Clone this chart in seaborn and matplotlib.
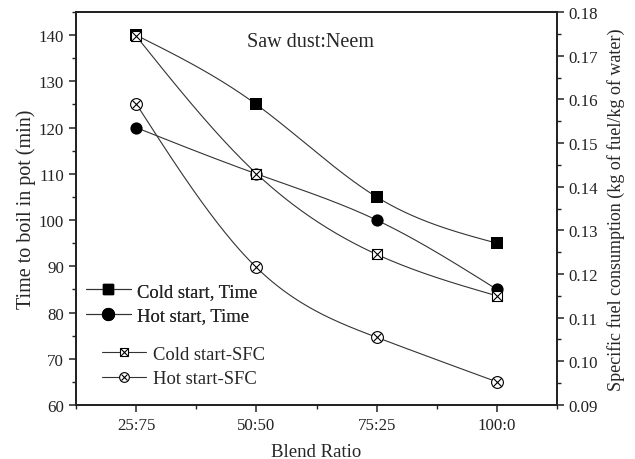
import numpy as np
import pandas as pd
import matplotlib
matplotlib.use("Agg")
import matplotlib.pyplot as plt
import seaborn as sns
from matplotlib.lines import Line2D
from matplotlib.ticker import MultipleLocator

categories = ["25:75", "50:50", "75:25", "100:0"]
cold_time = [140, 125, 105, 95]
hot_time = [120, 110, 100, 85]
cold_sfc = [0.1745, 0.1430, 0.1245, 0.1150]
hot_sfc = [0.1590, 0.1215, 0.1055, 0.0953]

sns.set_theme(style="ticks")
plt.rcParams["font.family"] = ["Liberation Serif", "DejaVu Serif"]
plt.rcParams["mathtext.fontset"] = "stix"


def spline(xs, ys, n=200):
    xs = np.asarray(xs, float)
    ys = np.asarray(ys, float)
    m = len(xs)
    h = np.diff(xs)
    A = np.zeros((m, m))
    b = np.zeros(m)
    A[0, 0] = A[-1, -1] = 1
    for i in range(1, m - 1):
        A[i, i - 1] = h[i - 1]
        A[i, i] = 2 * (h[i - 1] + h[i])
        A[i, i + 1] = h[i]
        b[i] = 3 * ((ys[i + 1] - ys[i]) / h[i] - (ys[i] - ys[i - 1]) / h[i - 1])
    c = np.linalg.solve(A, b)
    xx = np.linspace(xs[0], xs[-1], n)
    yy = np.empty_like(xx)
    for k, x in enumerate(xx):
        i = min(np.searchsorted(xs, x, side="right") - 1, m - 2)
        dx = x - xs[i]
        bb = (ys[i + 1] - ys[i]) / h[i] - h[i] * (c[i + 1] + 2 * c[i]) / 3
        d = (c[i + 1] - c[i]) / (3 * h[i])
        yy[k] = ys[i] + bb * dx + c[i] * dx ** 2 + d * dx ** 3
    return xx, yy


xpos = np.arange(1, len(categories) + 1)
df = pd.DataFrame({"x": xpos, "cold_time": cold_time, "hot_time": hot_time,
                   "cold_sfc": cold_sfc, "hot_sfc": hot_sfc})

fig = plt.figure(figsize=(6.35, 4.6), dpi=100)
ax = fig.add_axes([0.1197, 0.1174, 0.7575, 0.8543])
ax2 = ax.twinx()

lc = "#333333"
lw = 0.8
ms = 8.0  # points

for col, axx in [("cold_time", ax), ("hot_time", ax), ("cold_sfc", ax2), ("hot_sfc", ax2)]:
    xx, yy = spline(df["x"], df[col])
    axx.plot(xx, yy, color=lc, lw=lw, zorder=2)

sns.scatterplot(data=df, x="x", y="cold_time", ax=ax, marker="s", s=ms ** 2,
                color="black", edgecolor="black", linewidth=0, zorder=4)
sns.scatterplot(data=df, x="x", y="hot_time", ax=ax, marker="o", s=(ms + 0.8) ** 2,
                color="black", edgecolor="black", linewidth=0, zorder=4)
sns.scatterplot(data=df, x="x", y="cold_sfc", ax=ax2, marker="s", s=(ms - 0.4) ** 2,
                facecolor="white", edgecolor="black", linewidth=0.8, zorder=3)
sns.scatterplot(data=df, x="x", y="cold_sfc", ax=ax2, marker="x", s=(ms - 0.4) ** 2,
                color="black", linewidth=0.8, zorder=3)
sns.scatterplot(data=df, x="x", y="hot_sfc", ax=ax2, marker="o", s=(ms + 0.5) ** 2,
                facecolor="white", edgecolor="black", linewidth=0.8, zorder=3)
sns.scatterplot(data=df, x="x", y="hot_sfc", ax=ax2, marker="x", s=((ms + 0.5) * 0.72) ** 2,
                color="black", linewidth=0.8, zorder=3)

ax.set_xlim(0.5, 4.5)
ax.set_ylim(60, 145)
ax2.set_ylim(0.09, 0.18)
ax.set_xticks(xpos)
ax.set_xticklabels(categories)
ax.xaxis.set_minor_locator(MultipleLocator(0.5))
ax.yaxis.set_major_locator(MultipleLocator(10))
ax.yaxis.set_minor_locator(MultipleLocator(5))
ax2.yaxis.set_minor_locator(MultipleLocator(0.005))
ticks2 = np.arange(0.09, 0.1801, 0.01)
ax2.set_yticks(ticks2)
ax2.set_yticklabels([f"{v:.2f}" for v in ticks2])

for a in (ax, ax2):
    for s in a.spines.values():
        s.set_linewidth(1.3)
        s.set_color("#222222")
    a.tick_params(which="major", direction="out", length=5, width=1.1, labelsize=12.2, colors="#222222")
    a.tick_params(which="minor", direction="out", length=3, width=1.0, colors="#222222")
ax.tick_params(axis="x", which="both", top=False)

ax.set_xlabel("Blend Ratio", fontsize=13.5, labelpad=7)
ax.set_ylabel("Time to boil in pot (min)", fontsize=14.5, labelpad=2)
ax2.set_ylabel("Specific fuel consumption (kg of fuel/kg of water)", fontsize=13, labelpad=6)

ax.text(0.487, 0.925, "Saw dust:Neem", transform=ax.transAxes, fontsize=14.5, ha="center", va="center")

h1 = Line2D([], [], color=lc, lw=lw, marker="s", markersize=7.5, mfc="black", mec="black")
h2 = Line2D([], [], color=lc, lw=lw, marker="o", markersize=8.5, mfc="black", mec="black")
leg1 = ax.legend([h1, h2], ["Cold start, Time", "Hot start, Time"], loc="upper left",
                 bbox_to_anchor=(0.005, 0.33), frameon=False, fontsize=13.4,
                 handlelength=2.4, handletextpad=0.35, labelspacing=0.4, borderaxespad=0)
ax.add_artist(leg1)

h3a = Line2D([], [], color=lc, lw=lw, marker="s", markersize=6.2, mfc="white", mec="black", mew=0.8)
h3b = Line2D([], [], ls="none", marker="x", markersize=6.2, mec="black", mew=0.8)
h4a = Line2D([], [], color=lc, lw=lw, marker="o", markersize=7, mfc="white", mec="black", mew=0.8)
h4b = Line2D([], [], ls="none", marker="x", markersize=5.0, mec="black", mew=0.8)
leg2 = ax2.legend([(h3a, h3b), (h4a, h4b)], ["Cold start-SFC", "Hot start-SFC"], loc="upper left",
                  bbox_to_anchor=(0.038, 0.17), frameon=False, fontsize=13.4,
                  handlelength=2.4, handletextpad=0.35, labelspacing=0.4, borderaxespad=0)

fig.savefig("out.png", dpi=100)
